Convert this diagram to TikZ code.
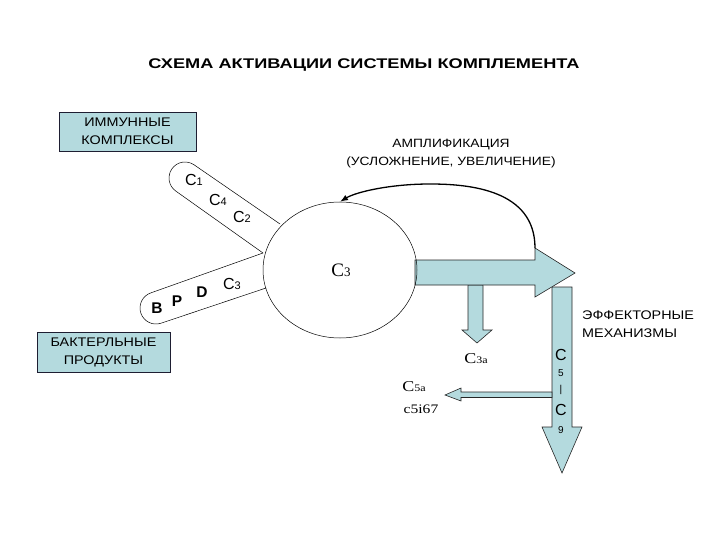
\documentclass[tikz,border=0pt]{standalone}
\usepackage{fontspec}
\setmainfont{Liberation Sans}
\newfontfamily\serifC{Liberation Serif}
\newfontfamily\serifW[FakeStretch=1.2]{Liberation Serif}
\newfontfamily\widesans[FakeStretch=1.15]{Liberation Sans}
\newfontfamily\titlefont[FakeStretch=1.3]{Liberation Sans}
\usetikzlibrary{shapes.geometric,arrows.meta}
\definecolor{lblue}{RGB}{180,218,222}
\definecolor{boxline}{RGB}{30,30,50}
\newcommand\fs[1]{\fontsize{#1}{#1}\selectfont}
\newcommand\fsb[2]{\fontsize{#1}{#2}\selectfont}
\newcommand\lowsub[1]{{\fs{11}#1}}
\newcommand\bigC[3]{{\fs{#1}C\fs{#2}#3}}
\tikzset{
  infobox/.style={draw=boxline, fill=lblue, align=center, inner sep=0pt, line width=0.6pt,
    font=\widesans\fsb{12.5}{18}},
  fatarrow/.style={draw=black!85, fill=lblue, line width=0.6pt},
  lobe/.style={draw=black, line width=0.5pt},
  lbl/.style={inner sep=0pt},
  clbl/.style={inner sep=0pt, font=\fs{16}},
  vlbl/.style={inner sep=0pt, font=\fs{16}},
  vsml/.style={inner sep=0pt, font=\fs{10}},
  bold/.style={inner sep=0pt, font=\fs{15.5}\bfseries},
  txt/.style={inner sep=0pt, align=left, font=\widesans\fsb{12}{18}}
}
\begin{document}
\begin{tikzpicture}[x=1pt,y=-1pt]
\useasboundingbox (0,0) rectangle (720,540);

% title
\node[lbl, font=\titlefont\fs{14}\bfseries] (title) at (364,65) {СХЕМА АКТИВАЦИИ СИСТЕМЫ КОМПЛЕМЕНТА};

% boxes
\node[infobox, minimum width=137, minimum height=39] (imm) at (127.5,131.5) {ИММУННЫЕ\\КОМПЛЕКСЫ};
\node[infobox, minimum width=133, minimum height=40] (bact) at (103.5,352) {БАКТЕРЛЬНЫЕ\\ПРОДУКТЫ};

% amplification text
\node[txt, align=center] (ampl) at (451,154) {АМПЛИФИКАЦИЯ\\(УСЛОЖНЕНИЕ, УВЕЛИЧЕНИЕ)};

% tall down arrow C5-C9
\draw[fatarrow] (552,287) -- (572,287) -- (572,427) -- (582,427) -- (562,473) -- (542,427) -- (552,427) -- cycle;
% left arrow C5a
\draw[fatarrow] (552,392) -- (461,392) -- (461,388) -- (445,395) -- (461,401) -- (461,397.5) -- (552,397.5) -- cycle;
% small down arrow C3a
\draw[fatarrow] (468,285) -- (483,285) -- (483,330) -- (492,330) -- (477,343) -- (462,330) -- (468,330) -- cycle;
% big right arrow
\draw[fatarrow] (415,260) -- (535,260) -- (535,248) -- (575,273) -- (535,297) -- (535,285) -- (415,285) -- cycle;

% central ellipse
\node[ellipse, draw, line width=0.5pt, minimum width=154, minimum height=136, inner sep=0pt] (ell) at (340,270) {};
\node[lbl, font=\serifC] (c3main) at (341,270) {\bigC{19}{13}{3}};

% upper lobe
\draw[lobe] (280,224) -- (194.2,164.9) arc[start angle=-55, end angle=-235, radius=16] -- (263,253);
% lower lobe
\draw[lobe] (263,253) -- (150.8,292.9) arc[start angle=-109, end angle=-289, radius=16] -- (266,288);

% lobe labels
\node[clbl] (c1) at (194,180) {C\lowsub{1}};
\node[clbl] (c4) at (218,200) {C\lowsub{4}};
\node[clbl] (c2) at (242,217) {C\lowsub{2}};
\node[clbl] (c3l) at (232,284) {C\lowsub{3}};
\node[bold] (b) at (157,308) {B};
\node[bold] (p) at (177,301) {P};
\node[bold] (d) at (202,292) {D};

% amplification curved arrow
\coordinate (ampstart) at (535,248);
\draw[line width=1.3pt, -{Latex[length=8pt,width=6pt]}] (ampstart) .. controls (535,190) and (470,184) .. (430,184) .. controls (390,184) and (356,192) .. (ell.north);

% effector text
\node[txt, anchor=west, font=\widesans\fsb{12.5}{18}] (eff) at (582,324) {ЭФФЕКТОРНЫЕ\\МЕХАНИЗМЫ};

% products
\node[lbl, font=\serifW] (c3a) at (476,359) {\bigC{15}{10}{3a}};
\node[lbl, font=\serifW] (c5a) at (414,387) {\bigC{15}{10}{5a}};
\node[lbl, font=\serifW\fs{13}] (c5i) at (421,409) {c5i67};

% vertical label
\node[vlbl] (vc1) at (561,355) {C};
\node[vsml] (v5) at (561,373) {5};
\node[vsml] (vbar) at (561,390) {|};
\node[vlbl] (vc2) at (561,410) {C};
\node[vsml] (v9) at (561,430) {9};
\end{tikzpicture}
\end{document}
